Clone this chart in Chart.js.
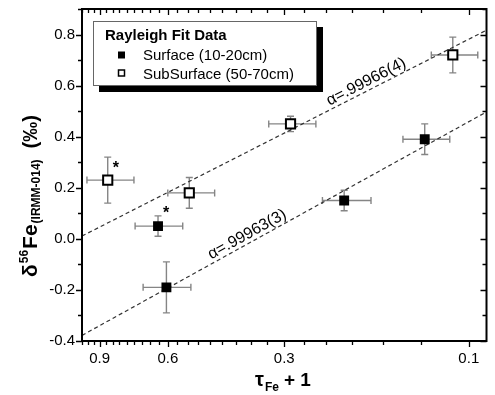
<!DOCTYPE html>
<html><head><meta charset="utf-8">
<script src="https://cdn.jsdelivr.net/npm/chart.js@4.4.0/dist/chart.umd.min.js"></script>
<style>html,body{margin:0;padding:0;background:#fff;}#wrap{width:495px;height:395px;}</style>
</head><body><div id="wrap"><canvas id="c" width="495" height="395"></canvas></div>
<script>
// ---- data ----
const surfaceX    = [0.605, 0.636, 0.210, 0.130];
const surfaceY    = [-0.19, 0.05, 0.15, 0.39];
const surfaceXHi  = [0.695, 0.729, 0.239, 0.148];
const surfaceXLo  = [0.523, 0.549, 0.179, 0.112];
const surfaceYErr = [0.10, 0.04, 0.04, 0.06];

const subX    = [0.858, 0.528, 0.289, 0.110];
const subY    = [0.23, 0.18, 0.45, 0.72];
const subXHi  = [0.971, 0.600, 0.329, 0.125];
const subXLo  = [0.734, 0.454, 0.2485, 0.0948];
const subYErr = [0.09, 0.06, 0.03, 0.07];

const fitX       = [1.0, 0.09];
const fitSubY    = [0.011, 0.817];   // alpha = .99966(4)
const fitSurfY   = [-0.378, 0.497];  // alpha = .99963(3)

const xMajorTicks = [0.9, 0.6, 0.3, 0.1];
const xMinorTicks = [0.1,0.1333,0.1667,0.2,0.2333,0.2667,0.3,0.3333,0.3667,0.4,0.4333,0.4667,0.5,0.5333,0.5667,0.6,0.6333,0.6667,0.7,0.7333,0.7667,0.8,0.8333,0.8667,0.9,0.9333,0.9667,1.0];
const yMajorTicks = [-0.4,-0.2,0.0,0.2,0.4,0.6,0.8];
const yMinorTicks = [-0.4,-0.3,-0.2,-0.1,0.0,0.1,0.2,0.3,0.4,0.5,0.6,0.7,0.8,0.9];

const starredSub  = [0];  // index of subsurface point with asterisk
const starredSurf = [1];  // index of surface point with asterisk

const FONT = '"Liberation Sans", Arial, Helvetica, sans-serif';

const pts = (xs, ys) => xs.map((x, i) => ({x, y: ys[i]}));

const isMajor = (arr, v) => arr.some(m => Math.abs(m - v) < 1e-6);

const errorBars = {
  id: 'errorBars',
  beforeDatasetsDraw(chart) {
    const {ctx, scales: {x, y}} = chart;
    ctx.save();
    ctx.strokeStyle = '#858585';
    ctx.lineWidth = 1.4;
    const cap = 3.5;
    const draw = (xs, ys, xhi, xlo, yerr) => {
      xs.forEach((xv, i) => {
        const px = x.getPixelForValue(xv), py = y.getPixelForValue(ys[i]);
        const x1 = x.getPixelForValue(xhi[i]), x2 = x.getPixelForValue(xlo[i]);
        const y1 = y.getPixelForValue(ys[i] + yerr[i]), y2 = y.getPixelForValue(ys[i] - yerr[i]);
        ctx.beginPath();
        ctx.moveTo(x1, py); ctx.lineTo(x2, py);
        ctx.moveTo(x1, py - cap); ctx.lineTo(x1, py + cap);
        ctx.moveTo(x2, py - cap); ctx.lineTo(x2, py + cap);
        ctx.moveTo(px, y1); ctx.lineTo(px, y2);
        ctx.moveTo(px - cap, y1); ctx.lineTo(px + cap, y1);
        ctx.moveTo(px - cap, y2); ctx.lineTo(px + cap, y2);
        ctx.stroke();
      });
    };
    draw(surfaceX, surfaceY, surfaceXHi, surfaceXLo, surfaceYErr);
    draw(subX, subY, subXHi, subXLo, subYErr);
    ctx.restore();
  }
};

const decorations = {
  id: 'decorations',
  afterDatasetsDraw(chart) {
    const {ctx, chartArea: a, scales: {x, y}} = chart;
    ctx.save();
    ctx.strokeStyle = '#000';
    ctx.lineWidth = 1.3;
    ctx.beginPath();
    xMinorTicks.forEach(v => {
      const px = Math.round(x.getPixelForValue(v)) + 0.5;
      const L = isMajor(xMajorTicks, v) ? 6 : 4;
      ctx.moveTo(px, a.bottom); ctx.lineTo(px, a.bottom + L);
      ctx.moveTo(px, a.top); ctx.lineTo(px, a.top + L);
    });
    yMinorTicks.forEach(v => {
      const py = Math.round(y.getPixelForValue(v)) + 0.5;
      const L = isMajor(yMajorTicks, v) ? 6 : 4;
      ctx.moveTo(a.left, py); ctx.lineTo(a.left - L, py);
      ctx.moveTo(a.right, py); ctx.lineTo(a.right - L, py);
    });
    ctx.stroke();
    ctx.lineWidth = 2;
    ctx.strokeRect(a.left, a.top, a.right - a.left, a.bottom - a.top);

    // fit-line labels
    ctx.fillStyle = '#000';
    const lineLabel = (text, ys, atX, off) => {
      const x0 = x.getPixelForValue(fitX[0]), x1 = x.getPixelForValue(fitX[1]);
      const y0 = y.getPixelForValue(ys[0]), y1 = y.getPixelForValue(ys[1]);
      const ang = Math.atan2(y1 - y0, x1 - x0);
      const px = x.getPixelForValue(atX);
      const py = y0 + (y1 - y0) * (px - x0) / (x1 - x0);
      ctx.save();
      ctx.translate(px, py);
      ctx.rotate(ang);
      ctx.font = '16px ' + FONT;
      ctx.textAlign = 'center';
      ctx.textBaseline = 'alphabetic';
      ctx.fillText(text, 0, -off);
      ctx.restore();
    };
    lineLabel('\u03B1=.99966(4)', fitSubY, 0.180, 4);
    lineLabel('\u03B1=.99963(3)', fitSurfY, 0.365, 4);

    // asterisks
    ctx.font = 'bold 16px ' + FONT;
    ctx.textAlign = 'left';
    ctx.textBaseline = 'middle';
    starredSub.forEach(i => {
      ctx.fillText('*', x.getPixelForValue(subX[i]) + 5, y.getPixelForValue(subY[i]) - 12);
    });
    starredSurf.forEach(i => {
      ctx.fillText('*', x.getPixelForValue(surfaceX[i]) + 5, y.getPixelForValue(surfaceY[i]) - 12);
    });

    // legend
    const L = {x: 93, y: 21, w: 224, h: 65};
    ctx.fillStyle = '#000';
    ctx.fillRect(L.x + L.w, L.y + 6, 6, L.h);
    ctx.fillRect(L.x + 6, L.y + L.h, L.w, 6);
    ctx.fillStyle = '#fff';
    ctx.fillRect(L.x, L.y, L.w, L.h);
    ctx.strokeStyle = '#666';
    ctx.lineWidth = 1;
    ctx.strokeRect(L.x + 0.5, L.y + 0.5, L.w - 1, L.h - 1);
    ctx.fillStyle = '#000';
    ctx.textAlign = 'left';
    ctx.textBaseline = 'alphabetic';
    ctx.font = 'bold 15px ' + FONT;
    ctx.fillText('Rayleigh Fit Data', 105, 39.5);
    ctx.font = '15px ' + FONT;
    ctx.fillText(chart.data.datasets[0].label, 143, 59.5);
    ctx.fillText(chart.data.datasets[1].label, 143, 78.5);
    ctx.fillRect(118, 51.5, 7, 7);
    ctx.lineWidth = 1.5;
    ctx.strokeStyle = '#000';
    ctx.fillStyle = '#fff';
    ctx.fillRect(118.5, 70, 6, 6);
    ctx.strokeRect(118.5, 70, 6, 6);

    // x title
    ctx.fillStyle = '#000';
    ctx.font = 'bold 20px ' + FONT;
    let cx = 255;
    ctx.fillText('\u03C4', cx, 386);
    cx += ctx.measureText('\u03C4').width + 1;
    ctx.font = 'bold 12px ' + FONT;
    ctx.fillText('Fe', cx, 391);
    cx += ctx.measureText('Fe').width + 5;
    ctx.font = 'bold 19px ' + FONT;
    ctx.fillText('+ 1', cx, 386);

    // y title (rotated)
    ctx.save();
    ctx.translate(37, 277);
    ctx.rotate(-Math.PI / 2);
    let u = 0;
    ctx.font = 'bold 21px ' + FONT;
    ctx.fillText('\u03B4', u, 0);
    u += ctx.measureText('\u03B4').width + 1;
    ctx.font = 'bold 12px ' + FONT;
    ctx.fillText('56', u, -9);
    u += ctx.measureText('56').width + 1;
    ctx.font = 'bold 21px ' + FONT;
    ctx.fillText('Fe', u, 0);
    u += ctx.measureText('Fe').width + 1;
    ctx.font = 'bold 12px ' + FONT;
    ctx.fillText('(IRMM-014)', u, 3);
    u += ctx.measureText('(IRMM-014)').width + 11;
    ctx.font = 'bold 20px ' + FONT;
    ctx.fillText('(\u2030)', u, 0);
    ctx.restore();

    ctx.restore();
  }
};

new Chart(document.getElementById('c'), {
  type: 'scatter',
  data: {
    datasets: [
      {label: 'Surface (10-20cm)', data: pts(surfaceX, surfaceY), pointStyle: 'rect', pointRadius: 7,
       backgroundColor: '#000', borderColor: '#000', borderWidth: 0, order: 1},
      {label: 'SubSurface (50-70cm)', data: pts(subX, subY), pointStyle: 'rect', pointRadius: 6.5,
       backgroundColor: '#fff', borderColor: '#000', borderWidth: 2, order: 1},
      {type: 'line', label: 'fit sub', data: pts(fitX, fitSubY), borderColor: '#333', borderWidth: 1.2,
       borderDash: [4, 3], pointRadius: 0, fill: false, order: 5},
      {type: 'line', label: 'fit surf', data: pts(fitX, fitSurfY), borderColor: '#333', borderWidth: 1.2,
       borderDash: [4, 3], pointRadius: 0, fill: false, order: 5}
    ]
  },
  options: {
    responsive: false,
    animation: false,
    layout: {padding: {top: 9, right: 1, left: 0, bottom: 0}},
    plugins: {legend: {display: false}, tooltip: {enabled: false}},
    scales: {
      x: {
        type: 'logarithmic', reverse: true, min: 0.09, max: 1.0,
        grid: {display: false, drawTicks: false, tickLength: 0}, border: {display: false},
        afterBuildTicks: s => { s.ticks = xMajorTicks.map(v => ({value: v})); },
        afterFit: s => { s.height = 54; s.paddingLeft = 0; s.paddingRight = 0; },
        ticks: {autoSkip: false, maxRotation: 0, padding: 9, color: '#000',
                font: {family: FONT, size: 15}, callback: v => Number(v).toFixed(1)}
      },
      y: {
        type: 'linear', min: -0.4, max: 0.9,
        grid: {display: false, drawTicks: false, tickLength: 0}, border: {display: false},
        afterBuildTicks: s => { s.ticks = yMajorTicks.map(v => ({value: v})); },
        afterFit: s => { s.width = 82; s.paddingTop = 0; s.paddingBottom = 0; },
        ticks: {autoSkip: false, padding: 7, color: '#000',
                font: {family: FONT, size: 15}, callback: v => Number(v).toFixed(1)}
      }
    }
  },
  plugins: [errorBars, decorations]
});
</script>
</body></html>
